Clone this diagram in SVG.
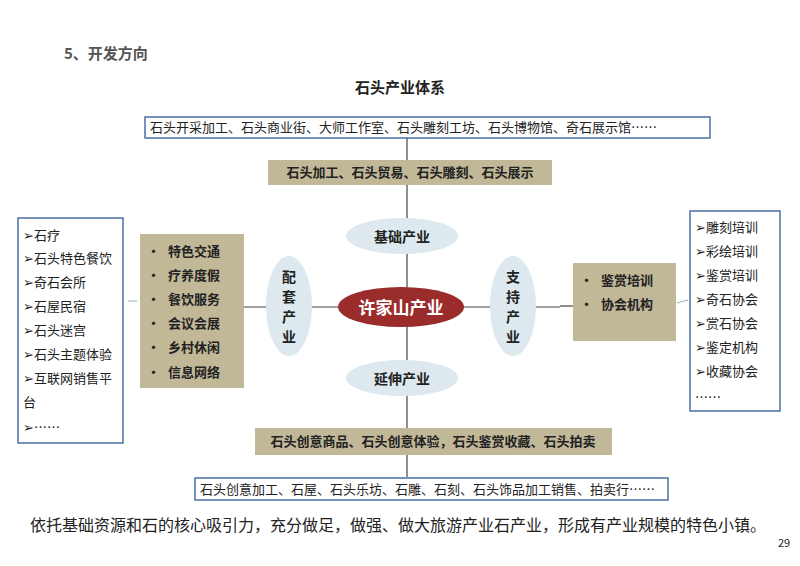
<svg xmlns="http://www.w3.org/2000/svg" width="800" height="566" viewBox="0 0 800 566">
<style>
text{font-family:"Noto Sans CJK SC","Liberation Sans",sans-serif;fill:#222}
.b{font-weight:bold}
.box{fill:#fff;stroke:#4a6fa5;stroke-width:1.5}
.tan{fill:#c1b898}
.oval{fill:#dde9ef}
.ln{stroke:#444;stroke-width:1.2;fill:none}
.s{font-size:13px}
</style>
<rect width="800" height="566" fill="#fff"/>
<text x="64" y="59" class="b" font-size="15" style="fill:#555">5、开发方向</text>
<text x="400" y="93" class="b" font-size="15" text-anchor="middle">石头产业体系</text>
<g id="connectors">
<line class="ln" x1="407" y1="138" x2="407" y2="477"/>
<line class="ln" x1="244" y1="307" x2="560" y2="307"/>
<line class="ln" x1="560" y1="306" x2="573" y2="306"/>
<line x1="128" y1="301" x2="137" y2="301" stroke="#9ab" stroke-width="1"/>
<line x1="677" y1="303" x2="688" y2="300" stroke="#9ab" stroke-width="1"/>
</g>
<g id="top-list"><rect class="box" x="145" y="117" width="565" height="21"/><text x="150" y="132" class="s">石头开采加工、石头商业街、大师工作室、石头雕刻工坊、石头博物馆、奇石展示馆……</text></g>
<g id="top-tan"><rect class="tan" x="268" y="160" width="284" height="25"/><text x="410" y="177" class="s b" text-anchor="middle">石头加工、石头贸易、石头雕刻、石头展示</text></g>
<g id="jichu"><ellipse class="oval" cx="402" cy="236" rx="56" ry="18"/><text x="402" y="242" class="b" font-size="14" text-anchor="middle">基础产业</text></g>
<g id="yanshen"><ellipse class="oval" cx="402" cy="378" rx="56" ry="18"/><text x="402" y="384" class="b" font-size="14" text-anchor="middle">延伸产业</text></g>
<g id="center"><ellipse cx="401" cy="307" rx="63" ry="20" fill="#9b2c2c"/><text x="401" y="314" class="b" font-size="17" text-anchor="middle" style="fill:#fff">许家山产业</text></g>
<g id="peitao"><ellipse class="oval" cx="289" cy="306" rx="23" ry="50"/><g class="b" font-size="14" text-anchor="middle"><text x="289" y="282">配</text><text x="289" y="302">套</text><text x="289" y="322">产</text><text x="289" y="342">业</text></g></g>
<g id="zhichi"><ellipse class="oval" cx="513" cy="306" rx="23" ry="50"/><g class="b" font-size="14" text-anchor="middle"><text x="513" y="282">支</text><text x="513" y="302">持</text><text x="513" y="322">产</text><text x="513" y="342">业</text></g></g>
<g id="left-tan"><rect class="tan" x="140" y="234" width="104" height="154"/>
<g class="s b"><text x="147" y="256">•</text><text x="168" y="256">特色交通</text><text x="147" y="280">•</text><text x="168" y="280">疗养度假</text><text x="147" y="304">•</text><text x="168" y="304">餐饮服务</text><text x="147" y="328">•</text><text x="168" y="328">会议会展</text><text x="147" y="352">•</text><text x="168" y="352">乡村休闲</text><text x="147" y="377">•</text><text x="168" y="377">信息网络</text></g></g>
<g id="left-list"><rect class="box" x="18" y="218" width="105" height="225"/>
<g class="s"><text x="23" y="240">➢石疗</text><text x="23" y="263">➢石头特色餐饮</text><text x="23" y="287">➢奇石会所</text><text x="23" y="311">➢石屋民宿</text><text x="23" y="335">➢石头迷宫</text><text x="23" y="359">➢石头主题体验</text><text x="23" y="383">➢互联网销售平</text><text x="23" y="407">台</text><text x="23" y="432">➢……</text></g></g>
<g id="right-tan"><rect class="tan" x="573" y="263" width="103" height="78"/>
<g class="s b"><text x="580" y="285">•</text><text x="601" y="285">鉴赏培训</text><text x="580" y="309">•</text><text x="601" y="309">协会机构</text></g></g>
<g id="right-list"><rect class="box" x="690" y="211" width="90" height="200"/>
<g class="s"><text x="695" y="232">➢雕刻培训</text><text x="695" y="256">➢彩绘培训</text><text x="695" y="280">➢鉴赏培训</text><text x="695" y="304">➢奇石协会</text><text x="695" y="328">➢赏石协会</text><text x="695" y="352">➢鉴定机构</text><text x="695" y="376">➢收藏协会</text><text x="695" y="402">……</text></g></g>
<g id="bottom-tan"><rect class="tan" x="255" y="428" width="357" height="27"/><text x="433" y="446" class="s b" text-anchor="middle">石头创意商品、石头创意体验，石头鉴赏收藏、石头拍卖</text></g>
<g id="bottom-list"><rect class="box" x="195" y="478" width="473" height="22"/><text x="200" y="494" class="s">石头创意加工、石屋、石头乐坊、石雕、石刻、石头饰品加工销售、拍卖行……</text></g>
<text x="30" y="531" font-size="16">依托基础资源和石的核心吸引力，充分做足，做强、做大旅游产业石产业，形成有产业规模的特色小镇。</text>
<text x="778" y="547" font-size="11">29</text>
</svg>
